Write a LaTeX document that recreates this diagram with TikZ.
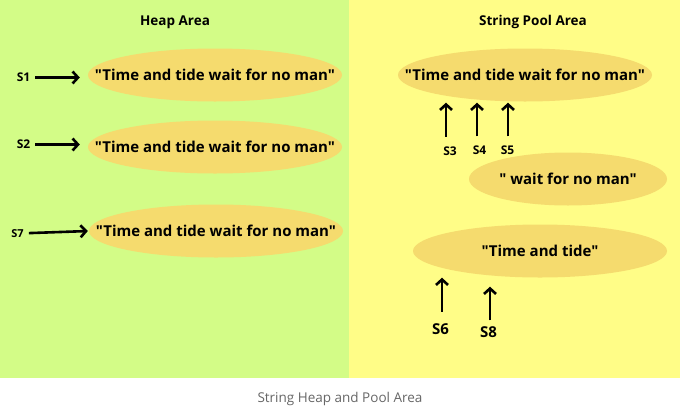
\documentclass[tikz,border=0pt]{standalone}
\usepackage{fontspec}
\setmainfont{Open Sans}[Ligatures=TeXOff]
\usetikzlibrary{arrows.meta,positioning,shapes.geometric}
\definecolor{heapGreen}{HTML}{D3FC87}
\definecolor{poolYellow}{HTML}{FFFD87}
\definecolor{strGold}{HTML}{F5DB6E}
\definecolor{capGray}{HTML}{666666}
\tikzset{
  strobj/.style={ellipse, fill=strGold, inner sep=0pt, minimum width=254pt, minimum height=53pt},
  strtext/.style={font=\bfseries\fontsize{15}{18}\selectfont},
  ref/.style={inner sep=1pt, font=\bfseries\fontsize{12}{14}\selectfont},
  bigref/.style={inner sep=1pt, font=\bfseries\fontsize{15}{17}\selectfont},
  area/.style={font=\bfseries\fontsize{13.5}{16}\selectfont},
  ptr/.style={-{Straight Barb[length=5.5pt,width=12pt]}, line width=2.6pt},
}
\begin{document}
\begin{tikzpicture}[x=1pt, y=-1pt]
  \useasboundingbox (0,0) rectangle (680,410);
  % panels
  \fill[heapGreen] (0,0) rectangle (349,378);
  \fill[poolYellow] (349,0) rectangle (680,378);
  \node[area] (heap) at (175,22) {Heap Area};
  \node[area] (pool) at (533,22) {String Pool Area};
  % heap objects
  \node[strobj, label={[strtext]center:"Time and tide wait for no man"}] (h1) at (215,75) {};
  \node[strobj, label={[strtext]center:"Time and tide wait for no man"}] (h2) at (215,147) {};
  \node[strobj, label={[strtext]center:"Time and tide wait for no man"}] (h3) at (216,231) {};
  \node[ref] (s1) at (23.5,77.5) {S1};
  \node[ref] (s2) at (23.5,144.5) {S2};
  \node[ref, font=\bfseries\fontsize{11}{13}\selectfont] (s7) at (17.5,233.5) {S7};
  \draw[ptr, shorten <=4pt, shorten >=8pt] (s1) -- (s1 -| h1.west);
  \draw[ptr, shorten <=4pt, shorten >=8pt] (s2) -- (s2 -| h2.west);
  \draw[ptr, shorten <=4pt, shorten >=1pt] (s7) -- (h3.west);
  % pool objects
  \node[strobj, label={[strtext]center:"Time and tide wait for no man"}] (p1) at (525,75) {};
  \node[strobj, minimum width=198pt, label={[strtext]center:" wait for no man"}] (p2) at (568,179) {};
  \node[strobj, label={[strtext]center:"Time and tide"}] (p3) at (540,251) {};
  \node[ref] (s3) at (450,151.5) {S3};
  \node[ref] (s4) at (479.5,150) {S4};
  \node[ref] (s5) at (507.5,150) {S5};
  \draw[ptr, shorten <=9pt, shorten >=1pt] (s3.north -| 446,0) -- (446,0 |- p1.south);
  \draw[ptr, shorten <=8pt, shorten >=1pt] (s4.north -| 477,0) -- (477,0 |- p1.south);
  \draw[ptr, shorten <=8pt, shorten >=1pt] (s5.north -| 508,0) -- (508,0 |- p1.south);
  \node[bigref] (s6) at (440.5,329.5) {S6};
  \node[bigref] (s8) at (488.5,332) {S8};
  \draw[ptr, shorten <=11pt] (s6.north -| 442,0) -- (442,0 |- p3.south);
  \draw[ptr, shorten <=5pt, shorten >=9pt] (s8.north -| 490,0) -- (490,0 |- p3.south);
  % caption
  \node[text=capGray, font=\fontsize{13.5}{16}\selectfont] (cap) at (340,399) {String Heap and Pool Area};
\end{tikzpicture}
\end{document}
